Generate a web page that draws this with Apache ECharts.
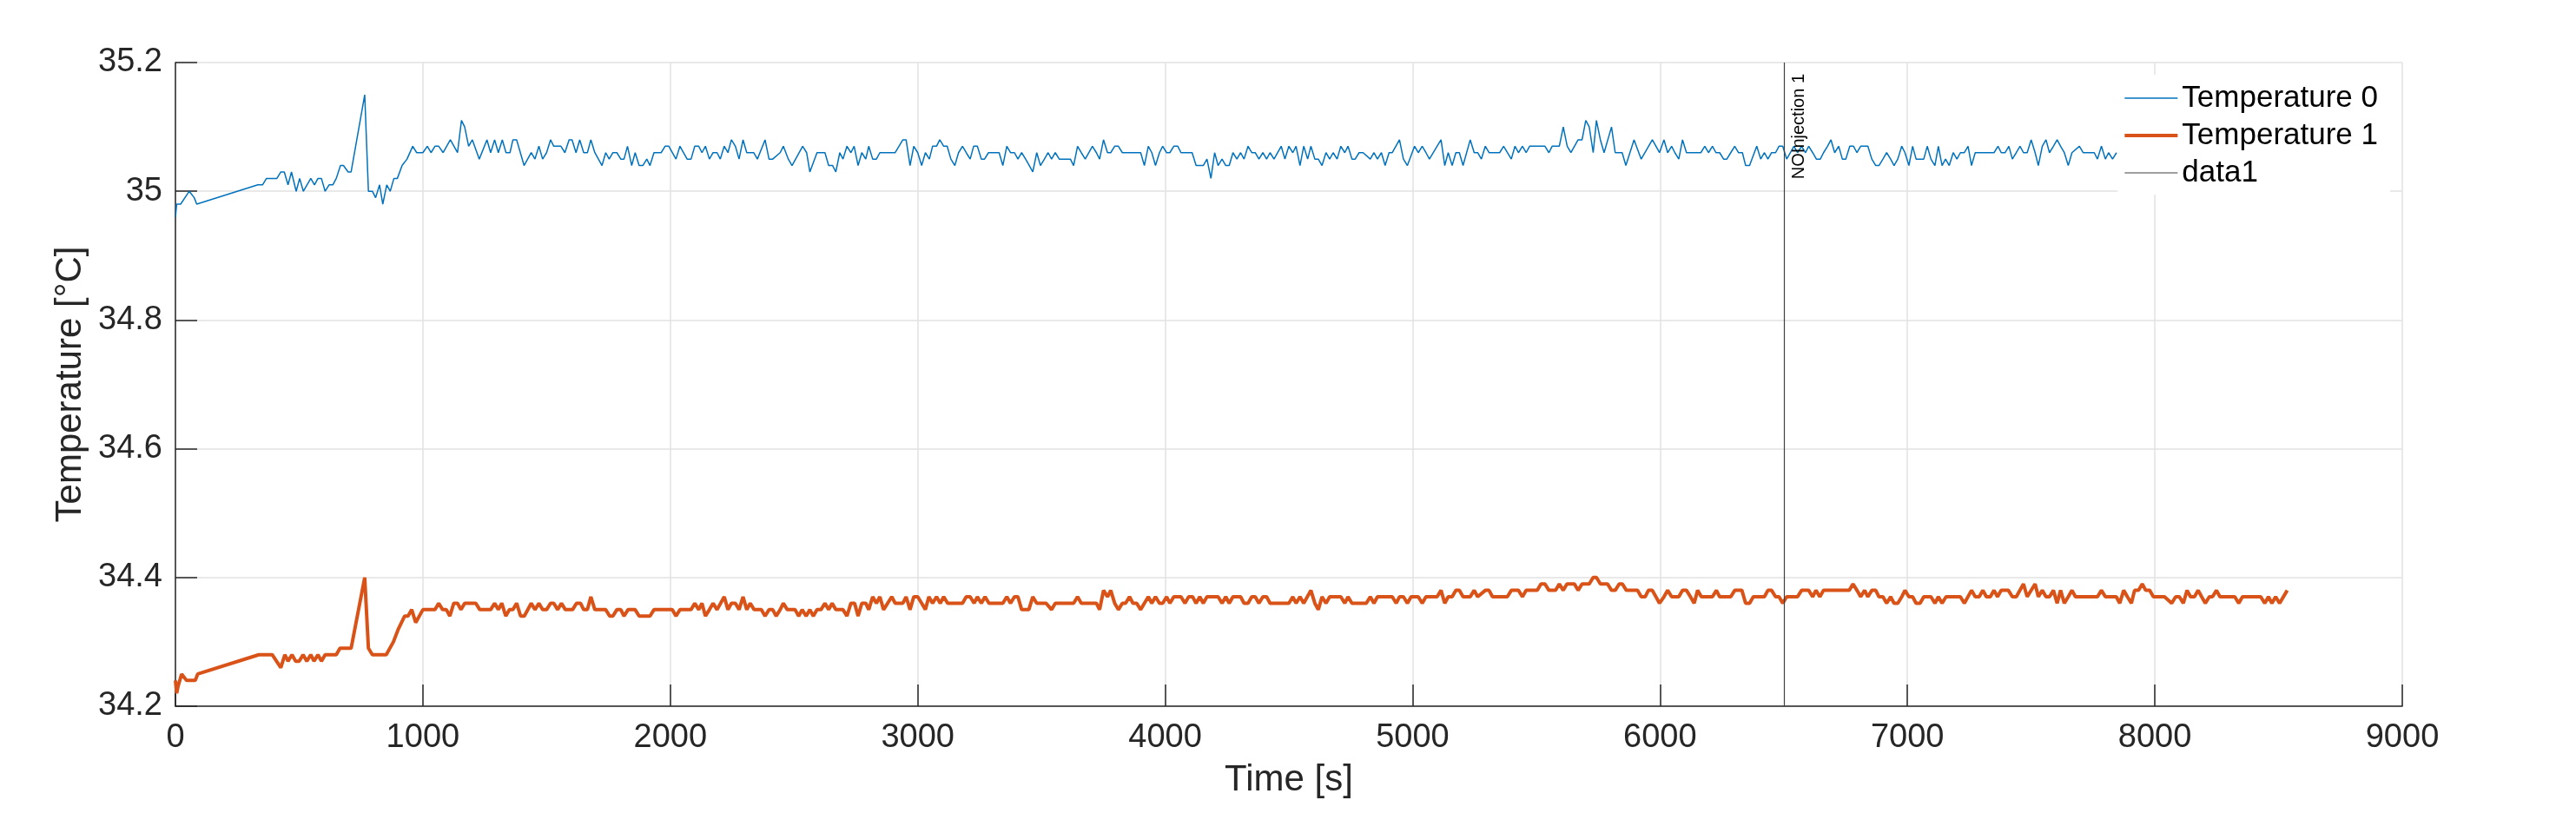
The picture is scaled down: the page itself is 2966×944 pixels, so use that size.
<!DOCTYPE html>
<html>
<head>
<meta charset="utf-8">
<title>Temperature</title>
<script src="https://cdn.jsdelivr.net/npm/echarts@6/dist/echarts.min.js"></script>
<style>
  html, body { margin: 0; padding: 0; background: #fff; }
  #chart-container { width: 2966px; height: 944px; }
</style>
</head>
<body>
<div id="chart-container"></div>
<script>
// Temperature 0 (blue) - time [s] and value [°C]
var time0 = [0, 5, 21, 56, 76, 86, 333, 352, 368, 410, 426, 440, 455, 469, 488, 502, 517, 547, 562, 576, 590, 605, 621, 636, 650, 667, 679, 698, 710, 765, 780, 796, 809, 825, 838, 854, 868, 883, 897, 916, 936, 959, 975, 1000,
  1018, 1033, 1049, 1064, 1082, 1111, 1140, 1156, 1169, 1185, 1200, 1228, 1259, 1274, 1290, 1305, 1321, 1336, 1352, 1364, 1379, 1409, 1438, 1453, 1469, 1484, 1500, 1516, 1529, 1558, 1574, 1591, 1603, 1619, 1634, 1650, 1665, 1679, 1695, 1724, 1739, 1753, 1768, 1784, 1800, 1813, 1827, 1844, 1858, 1874, 1889, 1905, 1918, 1934, 1963, 1979, 1994,
  2023, 2039, 2068, 2084, 2099, 2115, 2128, 2142, 2158, 2173, 2189, 2202, 2218, 2233, 2247, 2263, 2278, 2294, 2309, 2337, 2352, 2383, 2399, 2414, 2444, 2457, 2477, 2492, 2535, 2551, 2564, 2593, 2625, 2640, 2656, 2669, 2685, 2698, 2714, 2730, 2743, 2759, 2774, 2790, 2802, 2818, 2833, 2847, 2909, 2940, 2953, 2969, 2984,
  3000, 3016, 3031, 3047, 3060, 3076, 3089, 3105, 3119, 3134, 3150, 3165, 3181, 3196, 3212, 3226, 3241, 3257, 3270, 3286, 3329, 3344, 3360, 3375, 3391, 3405, 3420, 3436, 3451, 3465, 3481, 3496, 3512, 3527, 3541, 3556, 3572, 3617, 3630, 3646, 3661, 3677, 3706, 3722, 3735, 3751, 3767, 3780, 3796, 3811, 3827, 3901, 3916, 3932, 3946, 3961, 3977, 3990,
  4006, 4019, 4035, 4051, 4064, 4109, 4125, 4154, 4169, 4185, 4200, 4214, 4230, 4245, 4259, 4274, 4290, 4305, 4319, 4335, 4350, 4364, 4379, 4395, 4410, 4424, 4440, 4469, 4484, 4500, 4516, 4529, 4545, 4560, 4576, 4589, 4605, 4619, 4634, 4650, 4665, 4679, 4695, 4710, 4726, 4739, 4755, 4768, 4784, 4800, 4829, 4844, 4858, 4874, 4889, 4905, 4918, 4947, 4963, 4979,
  5008, 5023, 5039, 5054, 5068, 5099, 5115, 5130, 5144, 5160, 5175, 5189, 5204, 5233, 5249, 5263, 5278, 5294, 5309, 5352, 5368, 5399, 5414, 5428, 5444, 5459, 5473, 5535, 5551, 5564, 5593, 5609, 5625, 5640, 5669, 5685, 5700, 5714, 5730, 5743, 5759, 5774, 5804, 5819, 5847, 5862, 5895, 5924, 5969, 5998,
  6016, 6031, 6047, 6060, 6076, 6091, 6107, 6165, 6181, 6196, 6212, 6226, 6241, 6257, 6270, 6286, 6302, 6317, 6333, 6346, 6362, 6391, 6407, 6422, 6436, 6451, 6467, 6481, 6496, 6512, 6527, 6541, 6556, 6572, 6588, 6601, 6617, 6632, 6648, 6661, 6677, 6691, 6706, 6722, 6737, 6751, 6767, 6782, 6796, 6811, 6840, 6856, 6872, 6885, 6901, 6916, 6932, 6946, 6961, 6977, 6990,
  7006, 7021, 7035, 7066, 7080, 7095, 7111, 7125, 7140, 7154, 7169, 7185, 7200, 7214, 7230, 7245, 7259, 7274, 7350, 7366, 7379, 7395, 7410, 7424, 7440, 7455, 7469, 7484, 7500, 7516, 7529, 7545, 7560, 7574, 7590, 7605, 7619, 7634, 7650, 7665, 7695, 7710, 7755, 7768, 7784, 7800, 7813, 7829, 7845];
var temp0 = [34.96, 34.98, 34.98, 35.00, 34.99, 34.98, 35.01, 35.01, 35.02, 35.02, 35.03, 35.03, 35.01, 35.03, 35.00, 35.02, 35.00, 35.02, 35.01, 35.02, 35.02, 35.00, 35.01, 35.01, 35.02, 35.04, 35.04, 35.03, 35.03, 35.15, 35.00, 35.00, 34.99, 35.01, 34.98, 35.01, 35.00, 35.02, 35.02, 35.04, 35.05, 35.07, 35.06, 35.06,
  35.07, 35.06, 35.07, 35.07, 35.06, 35.08, 35.06, 35.11, 35.10, 35.07, 35.08, 35.05, 35.08, 35.06, 35.08, 35.06, 35.08, 35.06, 35.06, 35.08, 35.08, 35.04, 35.06, 35.05, 35.07, 35.05, 35.06, 35.08, 35.07, 35.07, 35.06, 35.08, 35.08, 35.06, 35.08, 35.06, 35.06, 35.08, 35.06, 35.04, 35.06, 35.05, 35.06, 35.06, 35.05, 35.05, 35.07, 35.04, 35.06, 35.04, 35.04, 35.05, 35.04, 35.06, 35.06, 35.07, 35.07,
  35.05, 35.07, 35.05, 35.05, 35.07, 35.07, 35.06, 35.07, 35.05, 35.06, 35.06, 35.05, 35.07, 35.06, 35.08, 35.07, 35.05, 35.08, 35.06, 35.06, 35.05, 35.08, 35.05, 35.05, 35.06, 35.07, 35.05, 35.04, 35.07, 35.06, 35.03, 35.06, 35.06, 35.04, 35.04, 35.03, 35.06, 35.05, 35.07, 35.06, 35.07, 35.04, 35.06, 35.05, 35.07, 35.05, 35.05, 35.06, 35.06, 35.08, 35.08, 35.04, 35.07,
  35.06, 35.04, 35.06, 35.05, 35.07, 35.07, 35.08, 35.07, 35.07, 35.05, 35.04, 35.06, 35.07, 35.06, 35.05, 35.07, 35.07, 35.05, 35.05, 35.06, 35.06, 35.04, 35.07, 35.06, 35.06, 35.05, 35.06, 35.05, 35.04, 35.03, 35.06, 35.04, 35.05, 35.06, 35.05, 35.06, 35.05, 35.05, 35.04, 35.07, 35.06, 35.05, 35.07, 35.06, 35.05, 35.08, 35.06, 35.06, 35.07, 35.07, 35.06, 35.06, 35.04, 35.07, 35.06, 35.04, 35.06, 35.07,
  35.06, 35.06, 35.07, 35.07, 35.06, 35.06, 35.04, 35.04, 35.05, 35.02, 35.06, 35.04, 35.05, 35.04, 35.04, 35.06, 35.05, 35.06, 35.05, 35.07, 35.06, 35.06, 35.05, 35.06, 35.05, 35.06, 35.05, 35.07, 35.05, 35.07, 35.06, 35.07, 35.04, 35.07, 35.05, 35.07, 35.05, 35.05, 35.04, 35.06, 35.05, 35.06, 35.05, 35.07, 35.06, 35.07, 35.05, 35.05, 35.06, 35.06, 35.05, 35.06, 35.05, 35.06, 35.04, 35.06, 35.06, 35.08, 35.05, 35.04,
  35.07, 35.06, 35.07, 35.06, 35.05, 35.07, 35.08, 35.04, 35.06, 35.04, 35.06, 35.06, 35.04, 35.08, 35.06, 35.06, 35.05, 35.07, 35.06, 35.06, 35.07, 35.05, 35.07, 35.06, 35.07, 35.06, 35.07, 35.07, 35.06, 35.07, 35.07, 35.10, 35.07, 35.06, 35.08, 35.08, 35.11, 35.10, 35.06, 35.11, 35.08, 35.06, 35.10, 35.06, 35.06, 35.04, 35.08, 35.05, 35.08, 35.06,
  35.08, 35.06, 35.07, 35.06, 35.05, 35.08, 35.06, 35.06, 35.07, 35.06, 35.07, 35.06, 35.06, 35.05, 35.05, 35.06, 35.07, 35.06, 35.06, 35.04, 35.04, 35.07, 35.05, 35.06, 35.05, 35.06, 35.06, 35.07, 35.07, 35.05, 35.06, 35.07, 35.06, 35.07, 35.06, 35.07, 35.06, 35.05, 35.05, 35.06, 35.07, 35.08, 35.06, 35.07, 35.05, 35.05, 35.07, 35.07, 35.06, 35.07, 35.07, 35.05, 35.04, 35.04, 35.05, 35.06, 35.05, 35.04, 35.05, 35.07, 35.06,
  35.04, 35.07, 35.05, 35.05, 35.07, 35.05, 35.04, 35.07, 35.04, 35.05, 35.04, 35.06, 35.05, 35.06, 35.06, 35.07, 35.04, 35.06, 35.06, 35.07, 35.06, 35.06, 35.07, 35.05, 35.06, 35.07, 35.06, 35.06, 35.08, 35.06, 35.04, 35.07, 35.08, 35.06, 35.07, 35.08, 35.07, 35.06, 35.04, 35.06, 35.07, 35.06, 35.06, 35.05, 35.07, 35.05, 35.06, 35.05, 35.06];

// Temperature 1 (orange)
var time1 = [0, 5, 10, 25, 45, 80, 90, 337, 391, 426, 442, 455, 471, 486, 500, 516, 531, 547, 560, 576, 590, 605, 650, 665, 710, 765, 780, 796, 852, 881, 901, 926, 940, 955, 971, 1000,
  1049, 1064, 1080, 1095, 1109, 1125, 1140, 1154, 1169, 1214, 1230, 1274, 1290, 1305, 1319, 1335, 1350, 1364, 1379, 1395, 1410, 1438, 1453, 1469, 1484, 1500, 1516, 1529, 1545, 1560, 1576, 1605, 1621, 1637, 1650, 1665, 1679, 1695, 1739, 1755, 1768, 1784, 1800, 1813, 1829, 1858, 1874, 1918, 1934,
  2008, 2023, 2039, 2084, 2099, 2115, 2128, 2142, 2158, 2173, 2189, 2218, 2233, 2247, 2263, 2278, 2294, 2309, 2323, 2339, 2368, 2383, 2399, 2414, 2428, 2444, 2457, 2473, 2504, 2519, 2533, 2549, 2564, 2578, 2593, 2609, 2625, 2640, 2654, 2669, 2698, 2714, 2730, 2745, 2759, 2774, 2790, 2802, 2818, 2833, 2847, 2862, 2895, 2909, 2940, 2953, 2969, 2984,
  3000, 3016, 3031, 3045, 3060, 3076, 3091, 3105, 3121, 3181, 3196, 3212, 3228, 3241, 3257, 3272, 3288, 3344, 3360, 3375, 3391, 3405, 3420, 3449, 3465, 3481, 3519, 3541, 3556, 3630, 3646, 3661, 3722, 3735, 3751, 3767, 3780, 3796, 3811, 3827, 3840, 3856, 3870, 3885, 3901, 3916, 3932, 3946, 3961, 3977, 3990,
  4006, 4019, 4035, 4064, 4080, 4095, 4111, 4125, 4140, 4154, 4169, 4214, 4230, 4245, 4259, 4274, 4305, 4319, 4335, 4350, 4364, 4379, 4395, 4410, 4424, 4500, 4516, 4529, 4545, 4560, 4589, 4605, 4619, 4634, 4650, 4665, 4710, 4726, 4739, 4755, 4813, 4829, 4844, 4858, 4918, 4934, 4947, 4963, 4979, 4994,
  5023, 5039, 5054, 5099, 5115, 5130, 5144, 5160, 5175, 5189, 5204, 5233, 5249, 5263, 5294, 5309, 5323, 5383, 5399, 5428, 5444, 5459, 5504, 5519, 5535, 5551, 5578, 5593, 5609, 5624, 5654, 5669, 5685, 5714, 5730, 5743, 5759, 5788, 5804, 5819, 5835, 5848, 5864, 5909, 5924, 5940, 5953, 5969, 5998,
  6016, 6031, 6047, 6076, 6091, 6107, 6123, 6138, 6152, 6167, 6212, 6228, 6241, 6286, 6302, 6331, 6346, 6362, 6377, 6422, 6436, 6451, 6467, 6481, 6496, 6512, 6556, 6572, 6601, 6617, 6630, 6646, 6661, 6765, 6780, 6796, 6811, 6827, 6840, 6856, 6872, 6885, 6901, 6916, 6932, 6946, 6961, 6977, 6990,
  7006, 7021, 7035, 7051, 7066, 7095, 7111, 7125, 7140, 7156, 7214, 7230, 7259, 7274, 7290, 7305, 7319, 7335, 7350, 7364, 7379, 7408, 7424, 7440, 7469, 7484, 7516, 7529, 7545, 7560, 7574, 7590, 7605, 7619, 7634, 7650, 7665, 7679, 7768, 7784, 7800, 7844, 7858, 7874, 7889, 7905, 7918, 7934, 7949, 7963, 7979, 7994,
  8039, 8068, 8084, 8099, 8115, 8130, 8144, 8160, 8175, 8189, 8204, 8220, 8233, 8249, 8263, 8323, 8339, 8354, 8428, 8444, 8459, 8473, 8488, 8504, 8535];
var temp1 = [34.24, 34.22, 34.23, 34.25, 34.24, 34.24, 34.25, 34.28, 34.28, 34.26, 34.28, 34.27, 34.28, 34.27, 34.27, 34.28, 34.27, 34.28, 34.27, 34.28, 34.27, 34.28, 34.28, 34.29, 34.29, 34.40, 34.29, 34.28, 34.28, 34.30, 34.32, 34.34, 34.34, 34.35, 34.33, 34.35,
  34.35, 34.36, 34.35, 34.35, 34.34, 34.36, 34.36, 34.35, 34.36, 34.36, 34.35, 34.35, 34.36, 34.35, 34.36, 34.34, 34.35, 34.35, 34.36, 34.34, 34.34, 34.36, 34.35, 34.36, 34.35, 34.35, 34.36, 34.36, 34.35, 34.36, 34.35, 34.35, 34.36, 34.36, 34.35, 34.35, 34.37, 34.35, 34.35, 34.34, 34.34, 34.35, 34.35, 34.34, 34.35, 34.35, 34.34, 34.34, 34.35,
  34.35, 34.34, 34.35, 34.35, 34.36, 34.35, 34.36, 34.34, 34.35, 34.36, 34.35, 34.37, 34.35, 34.36, 34.36, 34.35, 34.37, 34.35, 34.36, 34.35, 34.35, 34.34, 34.35, 34.35, 34.34, 34.35, 34.36, 34.35, 34.35, 34.34, 34.35, 34.34, 34.35, 34.34, 34.35, 34.35, 34.36, 34.35, 34.36, 34.35, 34.35, 34.34, 34.36, 34.36, 34.34, 34.36, 34.36, 34.35, 34.37, 34.36, 34.37, 34.35, 34.37, 34.36, 34.36, 34.37, 34.35, 34.37,
  34.37, 34.36, 34.35, 34.37, 34.36, 34.37, 34.36, 34.37, 34.36, 34.36, 34.37, 34.37, 34.36, 34.37, 34.36, 34.37, 34.36, 34.36, 34.37, 34.36, 34.37, 34.37, 34.35, 34.35, 34.37, 34.36, 34.36, 34.35, 34.36, 34.36, 34.37, 34.36, 34.36, 34.35, 34.38, 34.37, 34.38, 34.36, 34.35, 34.36, 34.36, 34.37, 34.36, 34.36, 34.35, 34.36, 34.37, 34.36, 34.37, 34.36, 34.36,
  34.37, 34.36, 34.37, 34.37, 34.36, 34.37, 34.37, 34.36, 34.37, 34.36, 34.37, 34.37, 34.36, 34.37, 34.36, 34.37, 34.37, 34.36, 34.36, 34.37, 34.37, 34.36, 34.37, 34.37, 34.36, 34.36, 34.37, 34.36, 34.37, 34.36, 34.38, 34.36, 34.35, 34.37, 34.36, 34.37, 34.37, 34.36, 34.37, 34.36, 34.36, 34.37, 34.36, 34.37, 34.37, 34.36, 34.37, 34.37, 34.36, 34.37,
  34.37, 34.36, 34.37, 34.37, 34.38, 34.36, 34.37, 34.37, 34.38, 34.38, 34.37, 34.37, 34.38, 34.37, 34.38, 34.38, 34.37, 34.37, 34.38, 34.38, 34.37, 34.38, 34.38, 34.39, 34.39, 34.38, 34.38, 34.39, 34.38, 34.39, 34.39, 34.38, 34.39, 34.39, 34.40, 34.40, 34.39, 34.39, 34.38, 34.38, 34.39, 34.39, 34.38, 34.38, 34.37, 34.37, 34.38, 34.38, 34.36,
  34.37, 34.38, 34.37, 34.37, 34.38, 34.38, 34.37, 34.36, 34.38, 34.37, 34.37, 34.38, 34.37, 34.37, 34.38, 34.38, 34.36, 34.36, 34.37, 34.37, 34.38, 34.38, 34.37, 34.37, 34.36, 34.37, 34.37, 34.38, 34.38, 34.37, 34.38, 34.37, 34.38, 34.38, 34.39, 34.38, 34.37, 34.38, 34.37, 34.38, 34.38, 34.37, 34.37, 34.36, 34.37, 34.36, 34.36, 34.37, 34.38,
  34.37, 34.37, 34.36, 34.36, 34.37, 34.37, 34.36, 34.37, 34.36, 34.37, 34.37, 34.36, 34.38, 34.37, 34.37, 34.38, 34.37, 34.37, 34.38, 34.37, 34.38, 34.38, 34.37, 34.37, 34.39, 34.37, 34.39, 34.37, 34.38, 34.37, 34.37, 34.38, 34.36, 34.38, 34.36, 34.37, 34.38, 34.37, 34.37, 34.38, 34.37, 34.37, 34.36, 34.38, 34.37, 34.36, 34.38, 34.38, 34.39, 34.38, 34.38, 34.37,
  34.37, 34.36, 34.37, 34.37, 34.36, 34.38, 34.37, 34.37, 34.38, 34.37, 34.36, 34.37, 34.37, 34.38, 34.37, 34.37, 34.36, 34.37, 34.37, 34.36, 34.37, 34.36, 34.37, 34.36, 34.38];

// vertical marker
var markerX = 6500;
var markerLabel = 'NOInjection 1';

var seriesNames = ['Temperature 0', 'Temperature 1', 'data1'];
var seriesColors = ['#0072BD', '#D95319', '#404040'];
var seriesWidths = [1.5, 4, 1.2];

var xMin = 0, xMax = 9000, xStep = 1000;
var yMin = 34.2, yMax = 35.2, yStep = 0.2;

var font = '"Liberation Sans", Helvetica, Arial, sans-serif';
var axisColor = '#262626';
var gridColor = '#e2e2e2';

var dom = document.getElementById('chart-container');
var myChart = echarts.init(dom, null, { renderer: 'canvas' });

var data0 = time0.map(function (t, i) { return [t, temp0[i]]; });
var data1 = time1.map(function (t, i) { return [t, temp1[i]]; });

// legend icons: plain line segments of each series' width
var legendData = seriesNames.map(function (name, i) {
    return {
        name: name,
        icon: 'path://M0 0H61V' + seriesWidths[i] + 'H0Z',
        itemStyle: { color: seriesColors[i], borderWidth: 0 }
    };
});

var option = {
    animation: false,
    backgroundColor: '#fff',
    textStyle: { fontFamily: font },
    grid: { left: 202, right: 200, top: 72, bottom: 131, containLabel: false },
    legend: {
        data: legendData,
        orient: 'vertical',
        right: 214,
        top: 86,
        itemWidth: 61,
        itemHeight: 14,
        itemGap: 7,
        backgroundColor: '#fff',
        padding: [9, 14, 7, 8],
        textStyle: { fontSize: 35, color: '#000', fontFamily: font, lineHeight: 36 }
    },
    xAxis: {
        type: 'value',
        min: xMin, max: xMax, interval: xStep,
        name: 'Time [s]',
        nameLocation: 'middle',
        nameGap: 64,
        nameTextStyle: { fontSize: 42, color: axisColor, fontFamily: font },
        axisLine: { lineStyle: { color: axisColor, width: 1.5 } },
        axisTick: { inside: true, length: 25, lineStyle: { color: axisColor, width: 1.5 } },
        axisLabel: {
            fontSize: 38, color: axisColor, margin: 18, fontFamily: font,
            formatter: function (v) { return String(v); }
        },
        splitLine: { show: true, lineStyle: { color: gridColor, width: 1.5 } }
    },
    yAxis: {
        type: 'value',
        min: yMin, max: yMax, interval: yStep,
        name: 'Temperature [°C]',
        nameLocation: 'middle',
        nameGap: 98,
        nameTextStyle: { fontSize: 42, color: axisColor, fontFamily: font },
        axisLine: { show: true, lineStyle: { color: axisColor, width: 1.5 } },
        axisTick: { show: true, inside: true, length: 25, lineStyle: { color: axisColor, width: 1.5 } },
        axisLabel: {
            fontSize: 38, color: axisColor, margin: 15, fontFamily: font,
            formatter: function (v) { return String(Math.round(v * 10) / 10); }
        },
        splitLine: { show: true, lineStyle: { color: gridColor, width: 1.5 } }
    },
    series: [
        {
            name: seriesNames[0],
            type: 'line',
            data: data0,
            symbol: 'none',
            color: seriesColors[0],
            lineStyle: { color: seriesColors[0], width: seriesWidths[0] },
            z: 3
        },
        {
            name: seriesNames[1],
            type: 'line',
            data: data1,
            symbol: 'none',
            color: seriesColors[1],
            lineStyle: { color: seriesColors[1], width: seriesWidths[1] },
            z: 3
        },
        {
            name: seriesNames[2],
            type: 'line',
            data: [],
            symbol: 'none',
            color: seriesColors[2],
            lineStyle: { color: seriesColors[2], width: seriesWidths[2] },
            markLine: {
                silent: true,
                symbol: ['none', 'none'],
                lineStyle: { color: seriesColors[2], width: seriesWidths[2], type: 'solid' },
                label: {
                    show: true,
                    position: 'insideEndBottom',
                    distance: [13, 8],
                    formatter: markerLabel,
                    fontSize: 20,
                    color: '#000',
                    fontFamily: font
                },
                data: [{ xAxis: markerX }]
            }
        }
    ]
};

myChart.setOption(option);
window.addEventListener('resize', myChart.resize);
</script>
</body>
</html>
